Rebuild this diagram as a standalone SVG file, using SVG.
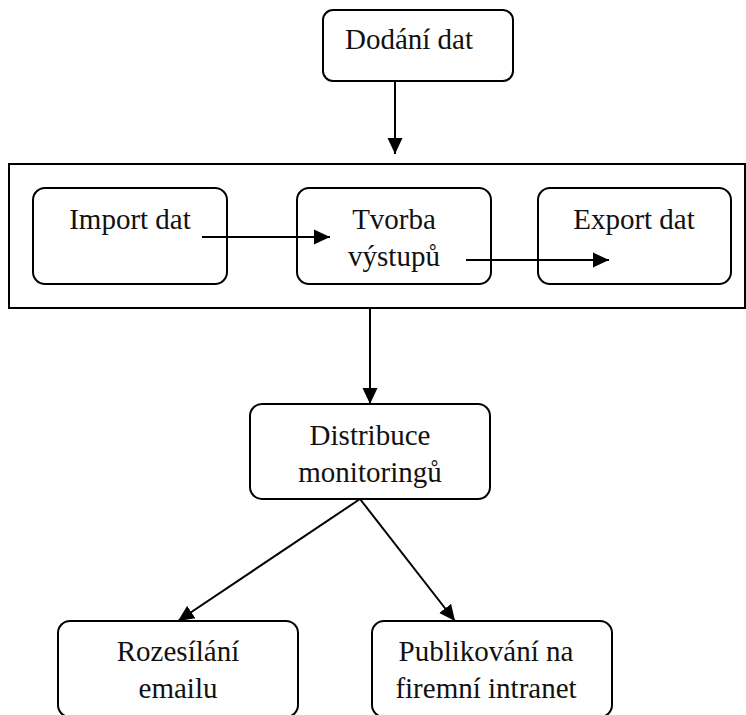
<svg xmlns="http://www.w3.org/2000/svg" width="746" height="715" viewBox="0 0 746 715">
  <defs>
    <marker id="arr" markerUnits="userSpaceOnUse" markerWidth="16" markerHeight="16" viewBox="0 0 16 16" refX="16" refY="8" orient="auto">
      <path d="M0,0.5 L16,8 L0,15.5 Z" fill="#000"/>
    </marker>
    <style>
      .box { fill: #fff; stroke: #000; stroke-width: 2; }
      .outer { fill: #fff; stroke: #000; stroke-width: 2; }
      .lbl { font-family: "Liberation Serif", "Times New Roman", serif; font-size: 29px; fill: #111; text-anchor: middle; }
      .conn { stroke: #000; stroke-width: 2; fill: none; marker-end: url(#arr); }
    </style>
  </defs>
  <rect width="746" height="715" fill="#fff"/>

  <g id="container">
    <rect class="outer" x="9" y="164" width="736" height="144"/>
  </g>

  <g id="dodani">
    <rect class="box" x="323" y="10" width="190" height="71" rx="10"/>
    <text class="lbl" x="409" y="49">Dodání dat</text>
  </g>

  <g id="import">
    <rect class="box" x="33" y="188" width="194" height="96" rx="12"/>
    <text class="lbl" x="130" y="229">Import dat</text>
  </g>

  <g id="tvorba">
    <rect class="box" x="297" y="188" width="194" height="96" rx="12"/>
    <text class="lbl" x="394" y="229">Tvorba</text>
    <text class="lbl" x="394" y="266">výstupů</text>
  </g>

  <g id="export">
    <rect class="box" x="538" y="188" width="193" height="96" rx="12"/>
    <text class="lbl" x="634" y="229">Export dat</text>
  </g>

  <g id="distribuce">
    <rect class="box" x="250" y="404" width="240" height="95" rx="12"/>
    <text class="lbl" x="370" y="445">Distribuce</text>
    <text class="lbl" x="370" y="482">monitoringů</text>
  </g>

  <g id="rozesilani">
    <rect class="box" x="58" y="621" width="240" height="96" rx="12"/>
    <text class="lbl" x="178" y="661">Rozesílání</text>
    <text class="lbl" x="178" y="698">emailu</text>
  </g>

  <g id="publikovani">
    <rect class="box" x="372" y="621" width="240" height="96" rx="12"/>
    <text class="lbl" x="486" y="661">Publikování na</text>
    <text class="lbl" x="486" y="698">firemní intranet</text>
  </g>

  <g id="connectors">
    <line class="conn" x1="395" y1="81" x2="395" y2="154"/>
    <line class="conn" x1="202" y1="237" x2="330" y2="237"/>
    <line class="conn" x1="466" y1="260" x2="609" y2="260"/>
    <line class="conn" x1="370" y1="308" x2="370" y2="404"/>
    <line class="conn" x1="360" y1="499" x2="178" y2="621"/>
    <line class="conn" x1="360" y1="499" x2="455" y2="621"/>
  </g>
</svg>
